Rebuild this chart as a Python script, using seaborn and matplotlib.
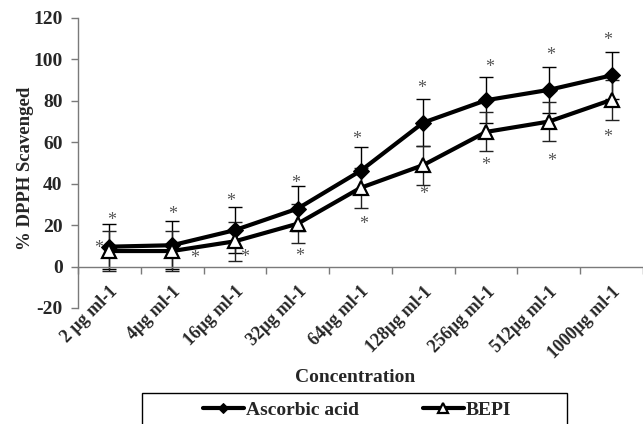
import numpy as np
import pandas as pd
import seaborn as sns
import matplotlib.pyplot as plt
from matplotlib.patches import Rectangle
from matplotlib.ticker import FixedLocator

# --- data ---
concentrations = ['2 μg ml-1', '4μg ml-1', '16μg ml-1', '32μg ml-1', '64μg ml-1',
                  '128μg ml-1', '256μg ml-1', '512μg ml-1', '1000μg ml-1']
ascorbic = [9.6, 10.3, 17.6, 28.0, 46.2, 69.5, 80.3, 85.3, 92.3]
ascorbic_err = [11.0, 11.5, 11.2, 11.0, 11.3, 11.2, 11.2, 11.2, 11.3]
bepi = [7.5, 7.5, 12.2, 20.7, 38.0, 49.0, 65.0, 70.0, 80.5]
bepi_err = [9.5, 9.5, 9.5, 9.5, 9.5, 9.4, 9.4, 9.6, 9.7]

# significance asterisks (value, offset from the category centre)
asc_star_y = [22.3, 25.0, 31.5, 40.0, 61.5, 86.0, 96.2, 102.0, 109.0]
asc_star_dx = [0.03, 0.0, -0.07, -0.04, -0.06, -0.03, 0.06, 0.03, -0.07]
bepi_star_y = [8.5, 3.7, 4.2, 5.0, 20.5, 34.7, 48.7, 50.7, 62.3]
bepi_star_dx = [-0.17, 0.35, 0.16, 0.03, 0.05, 0.0, 0.0, 0.05, -0.06]

pos = np.arange(len(concentrations))
df = pd.DataFrame({'pos': np.concatenate([pos, pos]),
                   'value': ascorbic + bepi,
                   'serie': ['Ascorbic acid'] * len(pos) + ['BEPI'] * len(pos)})

sns.set_theme(style="white")
plt.rcParams['font.family'] = ['Liberation Serif', 'DejaVu Serif']
plt.rcParams['font.weight'] = 'bold'
plt.rcParams['axes.unicode_minus'] = False

fig = plt.figure(figsize=(6.43, 4.24), dpi=100)
ax = fig.add_axes([78 / 643, 1 - 308 / 424, 1 - 78 / 643, (308 - 18) / 424])

axis_gray = '#7a7a7a'

# error bars first so the lines sit on top
ax.errorbar(pos, ascorbic, yerr=ascorbic_err, fmt='none', ecolor='black',
            elinewidth=1.0, capsize=5, capthick=1.0, zorder=2)
ax.errorbar(pos, bepi, yerr=bepi_err, fmt='none', ecolor='#222222',
            elinewidth=1.0, capsize=5, capthick=1.0, zorder=2)

sns.lineplot(data=df[df['serie'] == 'Ascorbic acid'], x='pos', y='value',
             color='black', linewidth=3.0, marker='D', markersize=8,
             markerfacecolor='black', markeredgecolor='black',
             label='Ascorbic acid', ax=ax, zorder=3)
sns.lineplot(data=df[df['serie'] == 'BEPI'], x='pos', y='value',
             color='black', linewidth=3.0, marker='^', markersize=10,
             markerfacecolor='white', markeredgecolor='black', markeredgewidth=1.6,
             label='BEPI', ax=ax, zorder=3)

for i in pos:
    ax.text(i + asc_star_dx[i], asc_star_y[i], '*', ha='center', va='center',
            fontsize=13, color='#555555', fontweight='normal')
    ax.text(i + bepi_star_dx[i], bepi_star_y[i], '*', ha='center', va='center',
            fontsize=13, color='#555555', fontweight='normal')

# axes styling, Excel-like
ax.set_xlim(-0.5, len(concentrations) - 0.5)
ax.set_ylim(-20, 120)
ax.set_yticks(range(-20, 121, 20))
ax.spines['top'].set_visible(False)
ax.spines['right'].set_visible(False)
ax.spines['bottom'].set_position(('data', 0))
for s in ['left', 'bottom']:
    ax.spines[s].set_color(axis_gray)
    ax.spines[s].set_linewidth(1.0)

ax.set_xticks(pos)
ax.set_xticklabels(concentrations, rotation=45, ha='right', va='top',
                   rotation_mode='anchor', fontsize=13, fontweight='bold')
ax.xaxis.set_minor_locator(FixedLocator(np.arange(-0.5, len(concentrations), 1.0)))
ax.tick_params(axis='x', which='major', length=0, pad=12)
ax.tick_params(axis='x', which='minor', length=5, width=1.0, color=axis_gray,
               direction='out', bottom=True)
ax.tick_params(axis='y', length=5, width=1.0, color=axis_gray, direction='out',
               left=True, labelsize=14, pad=6)
for lab in ax.get_yticklabels():
    lab.set_fontweight('bold')

ax.set_xlabel('')
ax.set_ylabel('% DPPH Scavenged', fontsize=13.5, fontweight='bold')
ax.yaxis.set_label_coords(-0.078, 0.48)
ax.grid(False)

fig.text(355 / 643, 1 - 377 / 424, 'Concentration', ha='center', va='center',
         fontsize=14, fontweight='bold')

# legend with a plain box that runs off the bottom edge
ax.get_legend().remove()
handles, labels = ax.get_legend_handles_labels()
fig.legend(handles, labels, ncol=2, loc='center', frameon=False,
           bbox_to_anchor=(357 / 643, 1 - 410 / 424),
           prop={'family': 'Liberation Serif', 'weight': 'bold', 'size': 14},
           handlelength=2.1, handletextpad=0.1, columnspacing=3.3, numpoints=1,
           markerscale=0.65)
fig.patches.append(Rectangle((142 / 643, -0.05), (567 - 142) / 643, 0.05 + 1 - 393 / 424,
                             transform=fig.transFigure, fill=False,
                             edgecolor='black', linewidth=1.0))

fig.savefig('out.png', dpi=100)
